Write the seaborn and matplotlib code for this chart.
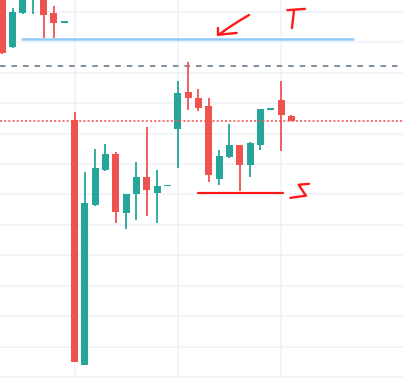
import matplotlib
matplotlib.use("Agg")
import matplotlib.pyplot as plt
import seaborn as sns
import numpy as np
import pandas as pd

# ---- data (bar index, OHLC) ----
opens  = [225.6, 208.5, 219.7, 225.6, 225.9, 219.7, 216.7,
          184.5, 103.9, 156.5, 168.1, 173.3, 153.9, 160.2, 165.8, 160.5, 162.8,
          181.5, 193.7, 191.7, 189.1, 165.1, 172.3, 176.3, 169.7, 176.3, 188.1,
          191.1, 185.8]
highs  = [228.9, 221.3, 227.9, 230.5, 227.2, 222.0, 216.7,
          187.1, 167.4, 175.0, 176.6, 174.0, 160.2, 170.7, 182.2, 168.1, 162.8,
          197.3, 203.6, 194.7, 191.7, 174.6, 183.2, 176.3, 177.3, 188.1, 188.1,
          197.3, 186.1]
lows   = [206.2, 208.2, 219.3, 219.3, 211.4, 211.4, 216.7,
          104.9, 103.9, 156.2, 167.7, 150.6, 148.7, 151.6, 153.0, 150.6, 162.8,
          168.7, 187.8, 187.4, 164.1, 163.1, 172.0, 161.1, 165.8, 174.6, 188.1,
          174.3, 184.2]
closes = [206.5, 220.0, 226.6, 228.9, 219.0, 216.4, 216.7,
          104.9, 157.2, 168.7, 173.3, 154.2, 160.2, 165.8, 161.5, 162.8, 162.8,
          193.4, 191.7, 188.4, 166.4, 172.7, 176.3, 169.7, 176.9, 188.1, 188.1,
          186.1, 184.2]
bars = list(range(len(opens)))

# horizontal reference lines
last_price = 184.16
dashed_level = 202.1
blue_level, blue_start, blue_end = 211.2, 1.92, 33.96
red_level, red_start, red_end = 160.4, 18.95, 27.18

# hand-drawn annotations (bar index, price)
arrow_curve_x = [23.9, 23.0, 22.0, 21.2, 20.9]
arrow_curve_y = [219.0, 217.2, 215.0, 213.1, 212.5]
arrow_head1_x = [20.9, 22.7]
arrow_head1_y = [212.5, 213.1]
arrow_head2_x = [20.9, 20.9]
arrow_head2_y = [212.5, 214.8]
t_bar_x = [27.6, 29.3]
t_bar_y = [220.6, 221.0]
t_stem_x = [28.25, 28.05]
t_stem_y = [220.6, 214.7]
s_x = [29.7, 28.7, 29.4, 27.9]
s_y = [163.5, 163.2, 159.6, 158.9]

df = pd.DataFrame({"bar": bars, "open": opens, "high": highs,
                   "low": lows, "close": closes})
df["up"] = df["close"] >= df["open"]

sns.set_theme(style="white")
plt.rcParams["lines.scale_dashes"] = False

fig = plt.figure(figsize=(4.03, 3.78), dpi=100)
ax = fig.add_axes([0, 0, 1, 1])

UP, DOWN = "#26a69a", "#ef5350"
colors = np.where(df["up"], UP, DOWN)

# grid
for p in range(100, 230, 10):
    ax.axhline(p, color="#eef1f8", lw=1.1, zorder=0)
for b in (7, 17, 27):
    ax.axvline(b, color="#eef1f8", lw=1.1, zorder=0)

# wicks
ax.vlines(df["bar"], df["low"], df["high"], colors=colors, lw=1.3, zorder=2)
# bodies
body_low = np.minimum(df["open"], df["close"])
body_h = np.maximum(np.abs(df["close"] - df["open"]), 0.35)
body_low = np.where(np.abs(df["close"] - df["open"]) < 0.35, body_low - 0.17, body_low)
ax.bar(df["bar"], body_h, bottom=body_low, width=0.68, color=colors,
       edgecolor="none", zorder=3)

# reference lines
ax.axhline(dashed_level, color="#758696", lw=1.3, ls=(0, (4, 4.3)), zorder=1)
ax.axhline(last_price, color=DOWN, lw=1.1, ls=(0, (1.5, 1.5)), zorder=4)
sns.lineplot(x=[blue_start, blue_end], y=[blue_level, blue_level], ax=ax,
             color="#90caf9", lw=1.8, zorder=4)
sns.lineplot(x=[red_start, red_end], y=[red_level, red_level], ax=ax,
             color="#ff1a1a", lw=1.6, zorder=4)

# hand-drawn marks
pen = dict(color="#ff1a1a", lw=1.7, solid_capstyle="round", zorder=5)
ax.plot(arrow_curve_x, arrow_curve_y, **pen)
ax.plot(arrow_head1_x, arrow_head1_y, **pen)
ax.plot(arrow_head2_x, arrow_head2_y, **pen)
ax.plot(t_bar_x, t_bar_y, **pen)
ax.plot(t_stem_x, t_stem_y, **pen)
ax.plot(s_x, s_y, **pen)

ax.set_xlim(-0.213, 38.8)
ax.set_ylim(99.67, 223.93)
ax.set_xticks([])
ax.set_yticks([])
for s in ax.spines.values():
    s.set_visible(False)
ax.set_facecolor("white")
fig.savefig("out.png", dpi=100, facecolor="white")
